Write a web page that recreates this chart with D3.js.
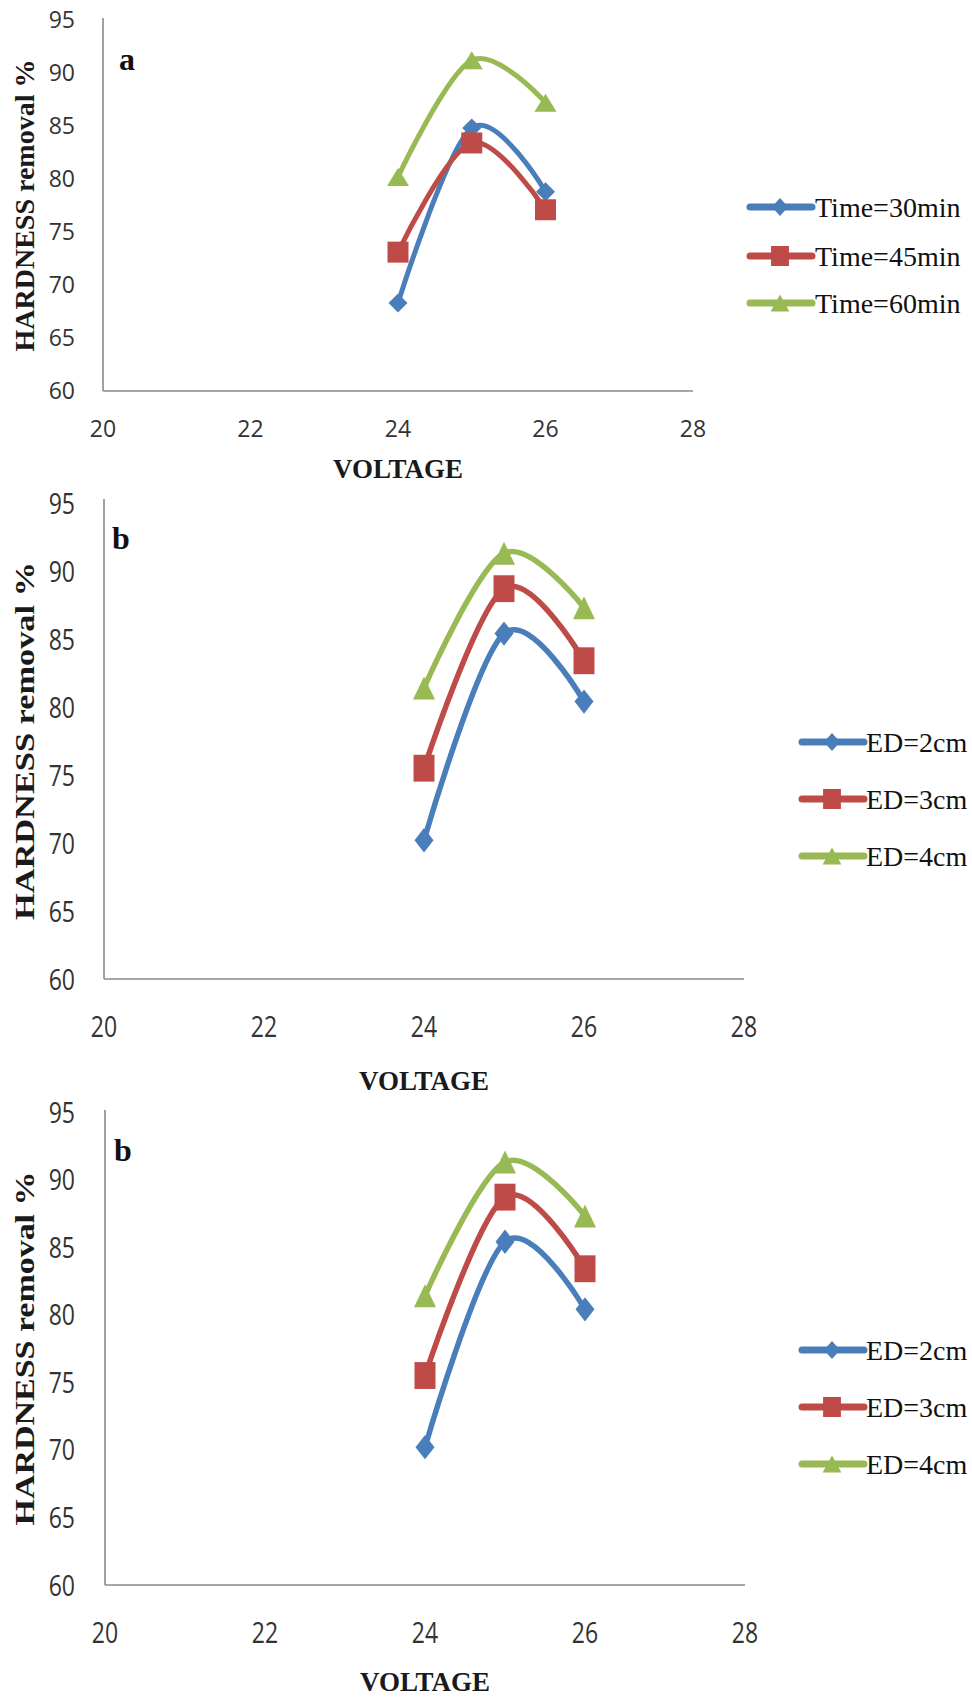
<!DOCTYPE html>
<html><head><meta charset="utf-8">
<script src="https://cdn.jsdelivr.net/npm/d3@7"></script>
<style>html,body{margin:0;padding:0;background:#fff;}svg{display:block;}</style>
</head><body>
<script>
// ---- data ----
const voltage = [24, 25, 26];
const xTicks = [20, 22, 24, 26, 28];
const yTicks = [60, 65, 70, 75, 80, 85, 90, 95];
const timeLabels = ["Time=30min", "Time=45min", "Time=60min"];
const time30 = [68.3, 84.8, 78.8];
const time45 = [73.1, 83.4, 77.1];
const time60 = [80.2, 91.2, 87.2];
const edLabels = ["ED=2cm", "ED=3cm", "ED=4cm"];
const ed2 = [70.2, 85.4, 80.4];
const ed3 = [75.5, 88.7, 83.4];
const ed4 = [81.4, 91.3, 87.3];
const xTitle = "VOLTAGE";
const yTitle = "HARDNESS removal %";
const colors = ["#4a7ebb", "#be4b48", "#98b954"];
const markerTypes = ["diamond", "square", "triangle"];

const W = 972, H = 1698;
const svg = d3.select("body").append("svg").attr("width", W).attr("height", H);
svg.append("rect").attr("width", W).attr("height", H).attr("fill", "#fff");

const panels = [
  {letter: "a", series: [time30, time45, time60], labels: timeLabels,
   x0: 103, x1: 693, y60: 391, y95: 20, axisTop: 18, xTickBase: 437, xTitleBase: 478,
   yTitleLen: 292, letterX: 119, letterY: 70, sy: 1.0, lineW: 5,
   leg: {l0: 750, l1: 812, m: 780, tx: 815, rows: [207, 256, 303], fs: 28, lw: 7}},
  {letter: "b", series: [ed2, ed3, ed4], labels: edLabels,
   x0: 104, x1: 744, y60: 979, y95: 503, axisTop: 499, xTickBase: 1037, xTitleBase: 1090,
   yTitleLen: 358, letterX: 112, letterY: 549, sy: 1.28, lineW: 5.5,
   leg: {l0: 802, l1: 864, m: 832, tx: 866, rows: [742, 799, 856], fs: 28, lw: 7}},
  {letter: "b", series: [ed2, ed3, ed4], labels: edLabels,
   x0: 105, x1: 745, y60: 1585, y95: 1112, axisTop: 1110, xTickBase: 1643, xTitleBase: 1691,
   yTitleLen: 354, letterX: 114, letterY: 1161, sy: 1.28, lineW: 5.5,
   leg: {l0: 802, l1: 864, m: 832, tx: 866, rows: [1350, 1407, 1464], fs: 28, lw: 7}}
];

function markerPath(type, w, h) {
  if (type === "diamond") return `M0,${-h}L${w},0L0,${h}L${-w},0Z`;
  if (type === "square") return `M${-w},${-h}H${w}V${h}H${-w}Z`;
  return `M0,${-h}L${w},${h}L${-w},${h}Z`;
}
function markerSize(type, sy) {
  if (type === "diamond") return [9.5, 9.5 * sy];
  if (type === "square") return [10.5, 10.5 * sy];
  return [11, 9 * sy];
}

panels.forEach(p => {
  const g = svg.append("g");
  const x = d3.scaleLinear().domain([20, 28]).range([p.x0, p.x1]);
  const y = d3.scaleLinear().domain([60, 95]).range([p.y60, p.y95]);

  // axes lines
  g.append("line").attr("x1", p.x0).attr("x2", p.x0).attr("y1", p.axisTop).attr("y2", p.y60)
    .attr("stroke", "#8a8a8a").attr("stroke-width", 1.6);
  g.append("line").attr("x1", p.x0).attr("x2", p.x1).attr("y1", p.y60).attr("y2", p.y60)
    .attr("stroke", "#8a8a8a").attr("stroke-width", 1.6);

  // y tick labels
  g.selectAll(".yt").data(yTicks).join("text")
    .attr("transform", d => `translate(75,${y(d)}) scale(1,${p.sy})`)
    .attr("dy", "0.36em").attr("text-anchor", "end")
    .attr("font-family", "'Open Sans', sans-serif").attr("font-size", 23)
    .attr("fill", "#333").text(d => d);

  // x tick labels
  g.selectAll(".xt").data(xTicks).join("text")
    .attr("transform", d => `translate(${x(d)},${p.xTickBase}) scale(1,${p.sy})`)
    .attr("text-anchor", "middle")
    .attr("font-family", "'Open Sans', sans-serif").attr("font-size", 23)
    .attr("fill", "#333").text(d => d);

  // axis titles
  g.append("text").attr("x", (p.x0 + p.x1) / 2).attr("y", p.xTitleBase)
    .attr("text-anchor", "middle").attr("font-family", "'Liberation Serif', 'Times New Roman', serif")
    .attr("font-weight", "bold").attr("font-size", 27).attr("fill", "#1a1a1a").text(xTitle);
  const yc = (p.y60 + p.y95) / 2;
  g.append("text").attr("transform", `translate(34,${yc}) rotate(-90)`)
    .attr("text-anchor", "middle").attr("font-family", "'Liberation Serif', 'Times New Roman', serif")
    .attr("font-weight", "bold").attr("font-size", 27).attr("fill", "#1a1a1a")
    .attr("textLength", p.yTitleLen).attr("lengthAdjust", "spacingAndGlyphs").text(yTitle);

  // panel letter
  g.append("text").attr("x", p.letterX).attr("y", p.letterY)
    .attr("font-family", "'Liberation Serif', 'Times New Roman', serif")
    .attr("font-weight", "bold").attr("font-size", 32).attr("fill", "#111").text(p.letter);

  // series
  const line = d3.line().x((d, i) => x(voltage[i])).y(d => y(d)).curve(d3.curveCardinal.tension(0));
  p.series.forEach((s, k) => {
    g.append("path").attr("d", line(s)).attr("fill", "none")
      .attr("stroke", colors[k]).attr("stroke-width", p.lineW).attr("stroke-linecap", "round");
  });
  p.series.forEach((s, k) => {
    const [mw, mh] = markerSize(markerTypes[k], p.sy);
    g.selectAll(null).data(s).join("path")
      .attr("transform", (d, i) => `translate(${x(voltage[i])},${y(d)})`)
      .attr("d", markerPath(markerTypes[k], mw, mh)).attr("fill", colors[k]);
  });

  // legend
  const L = p.leg;
  p.labels.forEach((lab, k) => {
    const ry = L.rows[k];
    g.append("line").attr("x1", L.l0).attr("x2", L.l1).attr("y1", ry).attr("y2", ry)
      .attr("stroke", colors[k]).attr("stroke-width", L.lw).attr("stroke-linecap", "round");
    const [mw, mh] = markerSize(markerTypes[k], 1);
    g.append("path").attr("transform", `translate(${L.m},${ry})`)
      .attr("d", markerPath(markerTypes[k], mw * 0.85, mh * 0.95)).attr("fill", colors[k]);
    g.append("text").attr("x", L.tx).attr("y", ry).attr("dy", "0.34em")
      .attr("font-family", "'Liberation Serif', 'Times New Roman', serif")
      .attr("font-size", L.fs).attr("fill", "#111").text(lab);
  });
});
</script>
</body></html>
